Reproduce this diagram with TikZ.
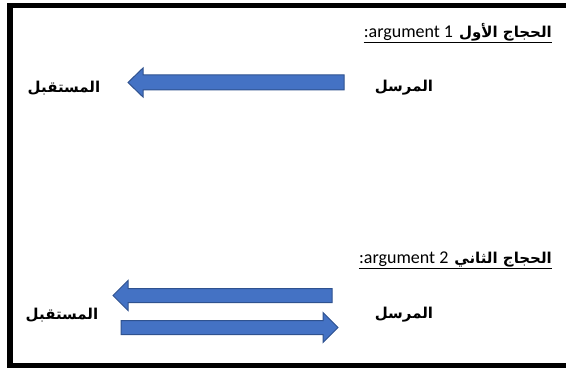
\documentclass[tikz,border=0pt]{standalone}
\usepackage{fontspec}
\setmainfont{Carlito}
\newfontfamily\arabicfont[Script=Arabic]{DejaVu Sans}
\TeXXeTstate=1
\usetikzlibrary{calc}
\definecolor{arrowfill}{HTML}{4472C4}
\definecolor{arrowline}{HTML}{2F528F}
\begin{document}
\begin{tikzpicture}[x=1pt,y=1pt,
  blockarrow/.style={fill=arrowfill,draw=arrowline,line width=1pt,line join=miter},
  arlabel/.style={font=\arabicfont\bfseries\fontsize{15}{18}\selectfont,inner sep=0pt},
  heading/.style={inner sep=0pt,anchor=base east},
  uline/.style={line width=1pt}]
\useasboundingbox (0,0) rectangle (566,-369);
\clip (0,0) rectangle (566,-369);
\draw[line width=5.5pt] (10,-5.5) rectangle (590,-365.5);
% heading 1
\node[heading] (h1) at (552,-38) {{\fontsize{18}{20}\selectfont :argument 1}\hspace{6pt}{\arabicfont\bfseries\fontsize{15}{20}\selectfont\beginR الحجاج الأول\endR}};
\draw[uline] ($(h1.base west)+(0,-5)$) -- ($(h1.base east)+(0,-5)$);
% heading 2
\node[heading] (h2) at (552,-263) {{\fontsize{18}{20}\selectfont :argument 2}\hspace{6pt}{\arabicfont\bfseries\fontsize{15}{20}\selectfont\beginR الحجاج الثاني\endR}};
\draw[uline] ($(h2.base west)+(0,-5)$) -- ($(h2.base east)+(0,-5)$);
% labels
\node[arlabel] (r1) at (64,-88) {\beginR المستقبل\endR};
\node[arlabel] (s1) at (404,-88) {\beginR المرسل\endR};
\node[arlabel] (r2) at (62,-315) {\beginR المستقبل\endR};
\node[arlabel] (s2) at (404,-315) {\beginR المرسل\endR};
% arrows
\coordinate (a1s) at (344,-82.5);
\coordinate (a1e) at (128,-82.5);
\draw[blockarrow] ($(a1s)+(0,7.5)$) -- ($(a1e)+(15,7.5)$) -- ($(a1e)+(15,14.5)$) -- (a1e) -- ($(a1e)+(15,-14.5)$) -- ($(a1e)+(15,-7.5)$) -- ($(a1s)+(0,-7.5)$) -- cycle;
\coordinate (a2s) at (332,-295.5);
\coordinate (a2e) at (113,-295.5);
\draw[blockarrow] ($(a2s)+(0,7)$) -- ($(a2e)+(15,7)$) -- ($(a2e)+(15,15)$) -- (a2e) -- ($(a2e)+(15,-15)$) -- ($(a2e)+(15,-7)$) -- ($(a2s)+(0,-7)$) -- cycle;
\coordinate (a3s) at (121,-327.5);
\coordinate (a3e) at (338,-327.5);
\draw[blockarrow] ($(a3s)+(0,7)$) -- ($(a3e)+(-15,7)$) -- ($(a3e)+(-15,15)$) -- (a3e) -- ($(a3e)+(-15,-15)$) -- ($(a3e)+(-15,-7)$) -- ($(a3s)+(0,-7)$) -- cycle;
\end{tikzpicture}
\end{document}
